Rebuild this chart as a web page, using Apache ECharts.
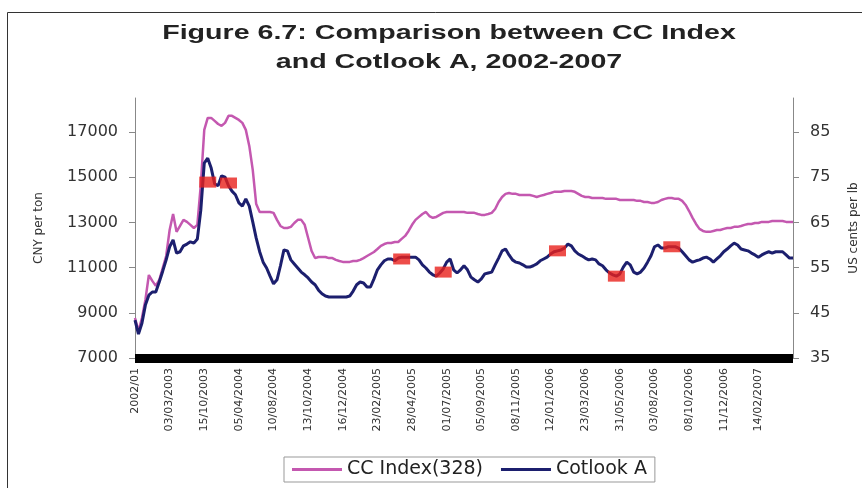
<!DOCTYPE html>
<html><head><meta charset="utf-8">
<script src="https://cdn.jsdelivr.net/npm/echarts@6/dist/echarts.min.js"></script>
<style>html,body{margin:0;padding:0;background:#fff}#c{width:862px;height:488px}</style>
</head><body><div id="c"></div>
<script>
const tickLabels = ['2002/01','03/03/2003','15/10/2003','05/04/2004','10/08/2004','13/10/2004','16/12/2004',
  '23/02/2005','28/04/2005','01/07/2005','05/09/2005','08/11/2005','12/01/2006','23/03/2006',
  '31/05/2006','03/08/2006','08/10/2006','11/12/2006','14/02/2007'];
const LABEL_STEP = 10;

const ccIndex = [
  8770, 8190, 8770, 9570, 10670, 10410, 10190, 10450, 10980, 11510,
  12660, 13370, 12580, 12840, 13110, 13020, 12890, 12750, 12890, 14660,
  17090, 17620, 17620, 17490, 17350, 17270, 17400, 17710, 17710, 17620,
  17530, 17400, 17090, 16380, 15320, 13810, 13460, 13460, 13460, 13460,
  13420, 13110, 12840, 12750, 12750, 12800, 12970, 13110, 13110, 12890,
  12310, 11730, 11420, 11470, 11470, 11470, 11420, 11420, 11340, 11290,
  11250, 11250, 11250, 11290, 11290, 11340, 11420, 11510, 11600, 11690,
  11820, 11960, 12040, 12090, 12090, 12130, 12130, 12270, 12400, 12620,
  12890, 13110, 13240, 13370, 13460, 13280, 13200, 13240, 13330, 13420,
  13460, 13460, 13460, 13460, 13460, 13460, 13420, 13420, 13420, 13370,
  13330, 13330, 13370, 13420, 13590, 13900, 14120, 14260, 14300, 14260,
  14260, 14210, 14210, 14210, 14210, 14170, 14120, 14170, 14210, 14260,
  14300, 14350, 14350, 14350, 14390, 14390, 14390, 14350, 14260, 14170,
  14120, 14120, 14080, 14080, 14080, 14080, 14040, 14040, 14040, 14040,
  13990, 13990, 13990, 13990, 13990, 13950, 13950, 13900, 13900, 13860,
  13860, 13900, 13990, 14040, 14080, 14080, 14040, 14040, 13950, 13770,
  13500, 13200, 12930, 12710, 12620, 12580, 12580, 12620, 12660, 12660,
  12710, 12750, 12750, 12800, 12800, 12840, 12890, 12930, 12930, 12970,
  12970, 13020, 13020, 13020, 13060, 13060, 13060, 13060, 13020, 13020,
  13020
];

const cotlookA = [
  43.4, 40.3, 42.7, 46.7, 48.9, 49.6, 49.6, 51.8, 54.2, 56.7,
  59.6, 61.1, 58.2, 58.5, 59.8, 60.2, 60.7, 60.4, 61.3, 67.7,
  78.1, 79.2, 77.0, 73.5, 73.1, 75.3, 75.0, 73.1, 71.9, 71.1,
  69.3, 68.6, 70.2, 68.6, 65.1, 61.5, 58.5, 56.2, 54.9, 53.1,
  51.4, 52.3, 55.4, 58.9, 58.7, 56.7, 55.8, 54.9, 54.0, 53.4,
  52.7, 51.8, 51.2, 50.0, 49.2, 48.7, 48.5, 48.5, 48.5, 48.5,
  48.5, 48.5, 48.7, 49.8, 51.2, 51.8, 51.6, 50.7, 50.7, 52.5,
  54.5, 55.6, 56.5, 56.9, 56.9, 56.5, 57.1, 57.3, 57.3, 57.3,
  57.3, 57.3, 56.7, 55.6, 54.9, 54.0, 53.4, 53.1, 53.8, 54.7,
  56.2, 56.9, 54.5, 53.8, 54.5, 55.4, 54.5, 52.9, 52.3, 51.8,
  52.5, 53.6, 53.8, 54.0, 55.6, 57.1, 58.7, 59.1, 57.8, 56.7,
  56.2, 56.0, 55.6, 55.1, 55.1, 55.4, 55.8, 56.5, 56.9, 57.3,
  58.0, 58.5, 58.7, 58.9, 59.3, 60.2, 59.8, 58.7, 58.0, 57.6,
  57.1, 56.7, 56.9, 56.7, 55.8, 55.4, 54.5, 53.8, 53.4, 53.1,
  53.6, 55.1, 56.2, 55.6, 54.0, 53.6, 54.0, 54.9, 56.2, 57.6,
  59.6, 60.0, 59.3, 59.3, 59.6, 59.6, 59.6, 59.3, 58.5, 57.6,
  56.7, 56.2, 56.5, 56.7, 57.1, 57.3, 56.9, 56.2, 56.9, 57.6,
  58.5, 59.1, 59.8, 60.4, 60.0, 59.1, 58.9, 58.7, 58.2, 57.8,
  57.3, 57.8, 58.2, 58.5, 58.2, 58.5, 58.5, 58.5, 57.8, 57.1,
  57.1
];

const markerIdx = [21, 27, 77, 89, 122, 139, 155];
const markerVal = [73.9, 73.7, 56.9, 54.0, 58.7, 53.1, 59.6];

const leftTicks = [7000, 9000, 11000, 13000, 15000, 17000];
const rightTicks = [35, 45, 55, 65, 75, 85];

const titleLines = ['Figure 6.7: Comparison between CC Index', 'and Cotlook A, 2002-2007'];

const categories = ccIndex.map((_, i) => String(i));
const markers = markerIdx.map((ix, k) => [ix, markerVal[k]]);

const SANS = 'Liberation Sans, Arial, sans-serif';
const WIDE = 'DejaVu Sans, Verdana, sans-serif';
const chart = echarts.init(document.getElementById('c'), null, {renderer: 'canvas'});
chart.setOption({
  animation: false,
  backgroundColor: '#fff',
  graphic: [{
    type: 'rect', silent: true, z: 100,
    shape: {x: 7.5, y: 12.5, width: 900, height: 520},
    style: {fill: 'none', stroke: '#333', lineWidth: 1}
  }, {
    type: 'text', silent: true, x: 449, y: 19, scaleX: 1.43, z: 100,
    style: {
      text: titleLines.join('\n'), align: 'center', verticalAlign: 'top',
      fontFamily: SANS, fontSize: 20, fontWeight: 'bold', lineHeight: 29, fill: '#222'
    }
  }],
  legend: {
    left: 284, top: 457,
    padding: [3, 8, 3, 8], itemGap: 18,
    borderColor: '#999', borderWidth: 1,
    itemWidth: 50, itemHeight: 3,
    textStyle: {fontFamily: WIDE, fontSize: 19, color: '#222'},
    data: [{name: 'CC Index(328)', icon: 'rect'}, {name: 'Cotlook A', icon: 'rect'}]
  },
  grid: {left: 135, right: 69, top: 98, bottom: 130, outerBoundsMode: 'none', containLabel: false},
  xAxis: {
    type: 'category', data: categories, boundaryGap: false,
    axisLine: {lineStyle: {color: '#000', width: 9, cap: 'butt'}},
    axisTick: {show: false},
    axisLabel: {
      interval: LABEL_STEP - 1, rotate: 90, margin: 10,
      fontFamily: WIDE, fontSize: 11, color: '#333',
      formatter: (v, i) => tickLabels[i / LABEL_STEP] || ''
    },
    splitLine: {show: false}
  },
  yAxis: [{
    type: 'value', position: 'left', min: 7000, max: 18500,
    name: 'CNY per ton', nameLocation: 'middle', nameGap: 90, nameRotate: 90,
    nameTextStyle: {fontFamily: WIDE, fontSize: 12, color: '#333'},
    axisLine: {show: true, lineStyle: {color: '#888', width: 1}},
    axisTick: {show: true, length: 6, customValues: leftTicks, lineStyle: {color: '#888'}},
    axisLabel: {customValues: leftTicks, margin: 17, fontFamily: WIDE, fontSize: 16, color: '#333',
      formatter: v => String(v)},
    splitLine: {show: false}
  }, {
    type: 'value', position: 'right', min: 35, max: 92.5,
    name: 'US cents per lb', nameLocation: 'middle', nameGap: 55, nameRotate: 90,
    nameTextStyle: {fontFamily: WIDE, fontSize: 12, color: '#333'},
    axisLine: {show: true, lineStyle: {color: '#888', width: 1}},
    axisTick: {show: true, length: 6, customValues: rightTicks, lineStyle: {color: '#888'}},
    axisLabel: {customValues: rightTicks, margin: 17, fontFamily: WIDE, fontSize: 16, color: '#333',
      formatter: v => String(v)},
    splitLine: {show: false}
  }],
  series: [{
    name: 'CC Index(328)', type: 'line', yAxisIndex: 0, data: ccIndex,
    showSymbol: false, symbol: 'none',
    lineStyle: {color: '#c458b0', width: 2.5}, itemStyle: {color: '#c458b0'}, z: 2
  }, {
    name: 'Cotlook A', type: 'line', yAxisIndex: 1, data: cotlookA,
    showSymbol: false, symbol: 'none',
    lineStyle: {color: '#1c1f6e', width: 3}, itemStyle: {color: '#1c1f6e'}, z: 3
  }, {
    name: 'markers', type: 'scatter', yAxisIndex: 1, data: markers,
    symbol: 'rect', symbolSize: [17, 11],
    itemStyle: {color: '#e8201c'}, z: 5
  }]
});
</script></body></html>
